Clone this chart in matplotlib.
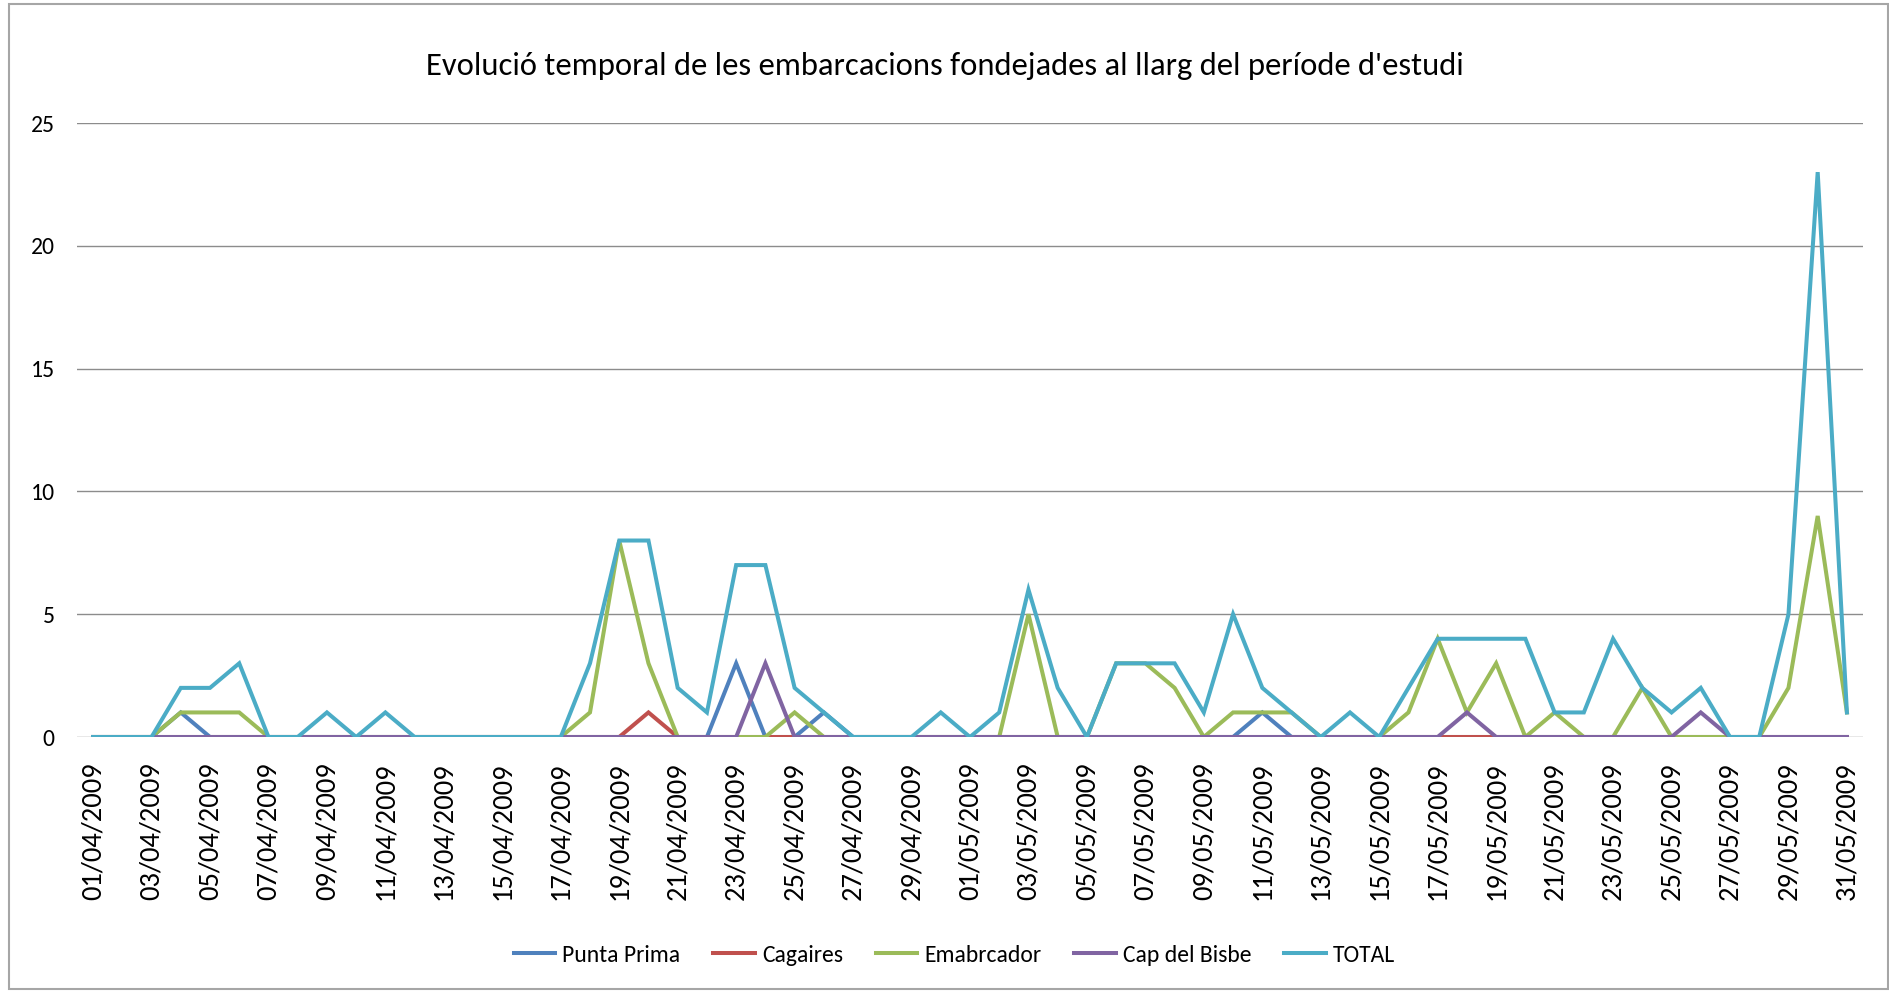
import numpy as np
import pandas as pd
import matplotlib
matplotlib.use("Agg")
import matplotlib.pyplot as plt
from matplotlib.patches import Rectangle

# ========================== DATA ==========================
dates = pd.date_range("2009-04-01", "2009-05-31", freq="D")
date_labels = [d.strftime("%d/%m/%Y") for d in dates]

punta_prima = [0, 0, 0, 1, 0, 0, 0, 0, 0, 0, 0, 0, 0, 0, 0, 0,
               0, 0, 0, 0, 0, 0, 3, 0, 0, 1, 0, 0, 0, 0, 0, 0,
               0, 0, 0, 0, 0, 0, 0, 0, 1, 0, 0, 0, 0, 0, 0, 0,
               0, 0, 0, 0, 0, 0, 0, 0, 0, 0, 0, 0, 0]
cagaires = [0, 0, 0, 0, 0, 0, 0, 0, 0, 0, 0, 0, 0, 0, 0, 0,
            0, 0, 0, 1, 0, 0, 0, 0, 0, 0, 0, 0, 0, 0, 0, 0,
            0, 0, 0, 0, 0, 0, 0, 0, 0, 0, 0, 0, 0, 0, 0, 0,
            0, 0, 0, 0, 0, 0, 0, 0, 0, 0, 0, 0, 0]
emabrcador = [0, 0, 0, 1, 1, 1, 0, 0, 0, 0, 0, 0, 0, 0, 0, 0,
              0, 1, 8, 3, 0, 0, 0, 0, 1, 0, 0, 0, 0, 0, 0, 0,
              5, 0, 0, 3, 3, 2, 0, 1, 1, 1, 0, 0, 0, 1, 4, 1,
              3, 0, 1, 0, 0, 2, 0, 0, 0, 0, 2, 9, 1]
cap_bisbe = [0, 0, 0, 0, 0, 0, 0, 0, 0, 0, 0, 0, 0, 0, 0, 0,
             0, 0, 0, 0, 0, 0, 0, 3, 0, 0, 0, 0, 0, 0, 0, 0,
             0, 0, 0, 0, 0, 0, 0, 0, 0, 0, 0, 0, 0, 0, 0, 1,
             0, 0, 0, 0, 0, 0, 0, 1, 0, 0, 0, 0, 0]
total = [0, 0, 0, 2, 2, 3, 0, 0, 1, 0, 1, 0, 0, 0, 0, 0,
         0, 3, 8, 8, 2, 1, 7, 7, 2, 1, 0, 0, 0, 1, 0, 1,
         6, 2, 0, 3, 3, 3, 1, 5, 2, 1, 0, 1, 0, 2, 4, 4,
         4, 4, 1, 1, 4, 2, 1, 2, 0, 0, 5, 23, 1]

series_names = ["Punta Prima", "Cagaires", "Emabrcador", "Cap del Bisbe", "TOTAL"]
series_vals = [punta_prima, cagaires, emabrcador, cap_bisbe, total]
series_colors = ["#4F81BD", "#C0504D", "#9BBB59", "#8064A2", "#4BACC6"]

y_ticks = [0, 5, 10, 15, 20, 25]
title = "Evolució temporal de les embarcacions fondejades al llarg del període d'estudi"

# ========================== PLOT ==========================
fonts = ["Carlito", "DejaVu Sans"]
plt.rcParams["font.family"] = fonts

fig = plt.figure(figsize=(18.9, 9.93), dpi=100)
ax = fig.add_axes([77 / 1890, 1 - 737 / 993, (1863 - 77) / 1890, (737 - 123) / 993])

x = np.arange(len(dates))
for name, vals, col in zip(series_names, series_vals, series_colors):
    ax.plot(x, vals, color=col, linewidth=2.9, label=name, solid_joinstyle="miter")

ax.set_xlim(-0.55, len(dates) - 1 + 0.55)
ax.set_ylim(0, 25)
ax.set_yticks(y_ticks)
ax.set_xticks(x[::2])
ax.set_xticklabels(date_labels[::2], rotation=90, fontsize=20.5)
ax.tick_params(axis="y", labelsize=17, pad=16, length=0)
ax.tick_params(axis="x", pad=18, length=0)
ax.grid(axis="y", color="#8C8C8C", linewidth=1.0)
ax.set_axisbelow(True)
for s in ax.spines.values():
    s.set_visible(False)

fig.text(0.5, 1 - 66 / 993, title, ha="center", va="center", fontsize=23.5)

fig.legend(loc="center", bbox_to_anchor=(0.505, 1 - 955 / 993), ncol=5, frameon=False,
           fontsize=17, handlelength=1.75, handletextpad=0.3, columnspacing=1.4)

# outer chart border
fig.patches.append(Rectangle((9 / 1890, 4 / 993), (1888 - 9) / 1890, (989 - 4) / 993,
                             transform=fig.transFigure, fill=False,
                             edgecolor="#A6A6A6", linewidth=1.5))

fig.savefig("out.png", dpi=100)
